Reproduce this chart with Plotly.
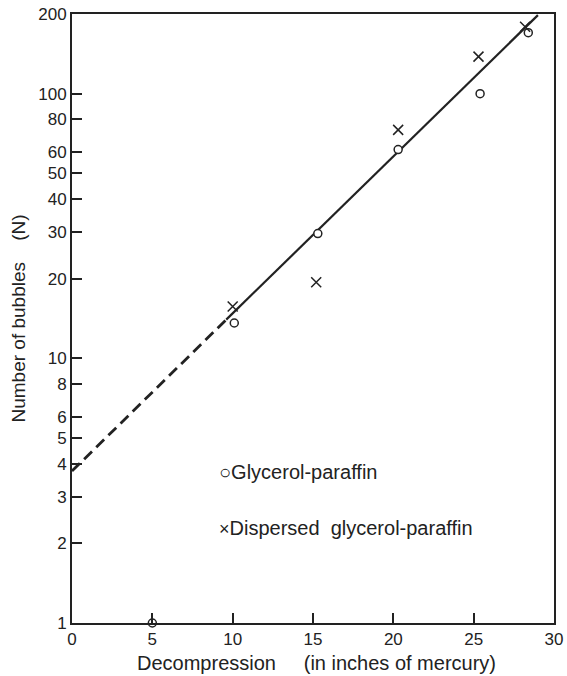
import plotly.graph_objects as go

# Data
glycerol_x = [5.0, 10.1, 15.3, 20.3, 25.4, 28.4]
glycerol_y = [1.0, 13.6, 29.6, 61.5, 100, 170]
dispersed_x = [10.0, 15.2, 20.3, 25.3, 28.2]
dispersed_y = [15.7, 19.4, 73, 138, 179]
fit_dash_x = [0.0, 9.6]
fit_dash_y = [3.75, 14.0]
fit_solid_x = [9.6, 29.0]
fit_solid_y = [14.0, 198]
x_ticks = [0, 5, 10, 15, 20, 25, 30]
y_ticks = [1, 2, 3, 4, 5, 6, 8, 10, 20, 30, 40, 50, 60, 80, 100, 200]

INK = "#222222"
FONT = "Liberation Sans, Arial, Helvetica, sans-serif"
NB = "\u00a0"

fig = go.Figure()
fig.add_trace(go.Scatter(x=fit_dash_x, y=fit_dash_y, mode="lines",
                         line=dict(color=INK, width=2.8, dash="11px,6px"),
                         showlegend=False, hoverinfo="skip"))
fig.add_trace(go.Scatter(x=fit_solid_x, y=fit_solid_y, mode="lines",
                         line=dict(color=INK, width=2.2),
                         showlegend=False, hoverinfo="skip", cliponaxis=False))
fig.add_trace(go.Scatter(x=glycerol_x, y=glycerol_y, mode="markers",
                         marker=dict(symbol="circle", size=8, color="white",
                                     line=dict(color=INK, width=1.5)),
                         showlegend=False, cliponaxis=False))
fig.add_trace(go.Scatter(x=dispersed_x, y=dispersed_y, mode="markers",
                         marker=dict(symbol="x-thin-open", size=10, color=INK,
                                     line=dict(color=INK, width=1.5)),
                         showlegend=False, cliponaxis=False))

axis_common = dict(ticks="inside", ticklen=10, tickwidth=1.5, tickcolor=INK,
                   showline=True, linecolor=INK, linewidth=2, mirror=True,
                   showgrid=False, zeroline=False, automargin=False,
                   tickfont=dict(family=FONT, size=17, color=INK))
fig.update_xaxes(range=[0, 30], tickvals=x_ticks, ticktext=[str(v) for v in x_ticks],
                 **axis_common)
fig.update_yaxes(type="log", range=[0, 2.30103], tickvals=y_ticks,
                 ticktext=[str(v) for v in y_ticks], **axis_common)

annotations = [
    dict(text="Number of bubbles" + NB * 4 + "(N)", xref="paper", yref="paper",
         x=-0.112, y=0.5, textangle=-90, showarrow=False,
         font=dict(family=FONT, size=19, color=INK), xanchor="center", yanchor="middle"),
    dict(text="Decompression" + NB * 5 + "(in inches of" + NB + "mercury)", xref="paper", yref="paper",
         x=0.507, y=-0.066, showarrow=False,
         font=dict(family=FONT, size=20, color=INK), xanchor="center", yanchor="middle"),
    dict(text="<span style='font-size:20px'>○</span>Glycerol-paraffin", xref="x", yref="y",
         x=9.0, y=0.57, showarrow=False, xanchor="left", yanchor="middle",
         font=dict(family=FONT, size=20, color=INK)),
    dict(text="<span style='font-size:18px'>×</span>Dispersed" + NB * 2 + "glycerol-paraffin",
         xref="x", yref="y", x=9.0, y=0.358, showarrow=False, xanchor="left", yanchor="middle",
         font=dict(family=FONT, size=20, color=INK)),
]

fig.update_layout(width=567, height=676,
                  margin=dict(l=72, r=13, t=14, b=53),
                  plot_bgcolor="white", paper_bgcolor="white",
                  annotations=annotations, showlegend=False)

fig.write_html("out.html")
